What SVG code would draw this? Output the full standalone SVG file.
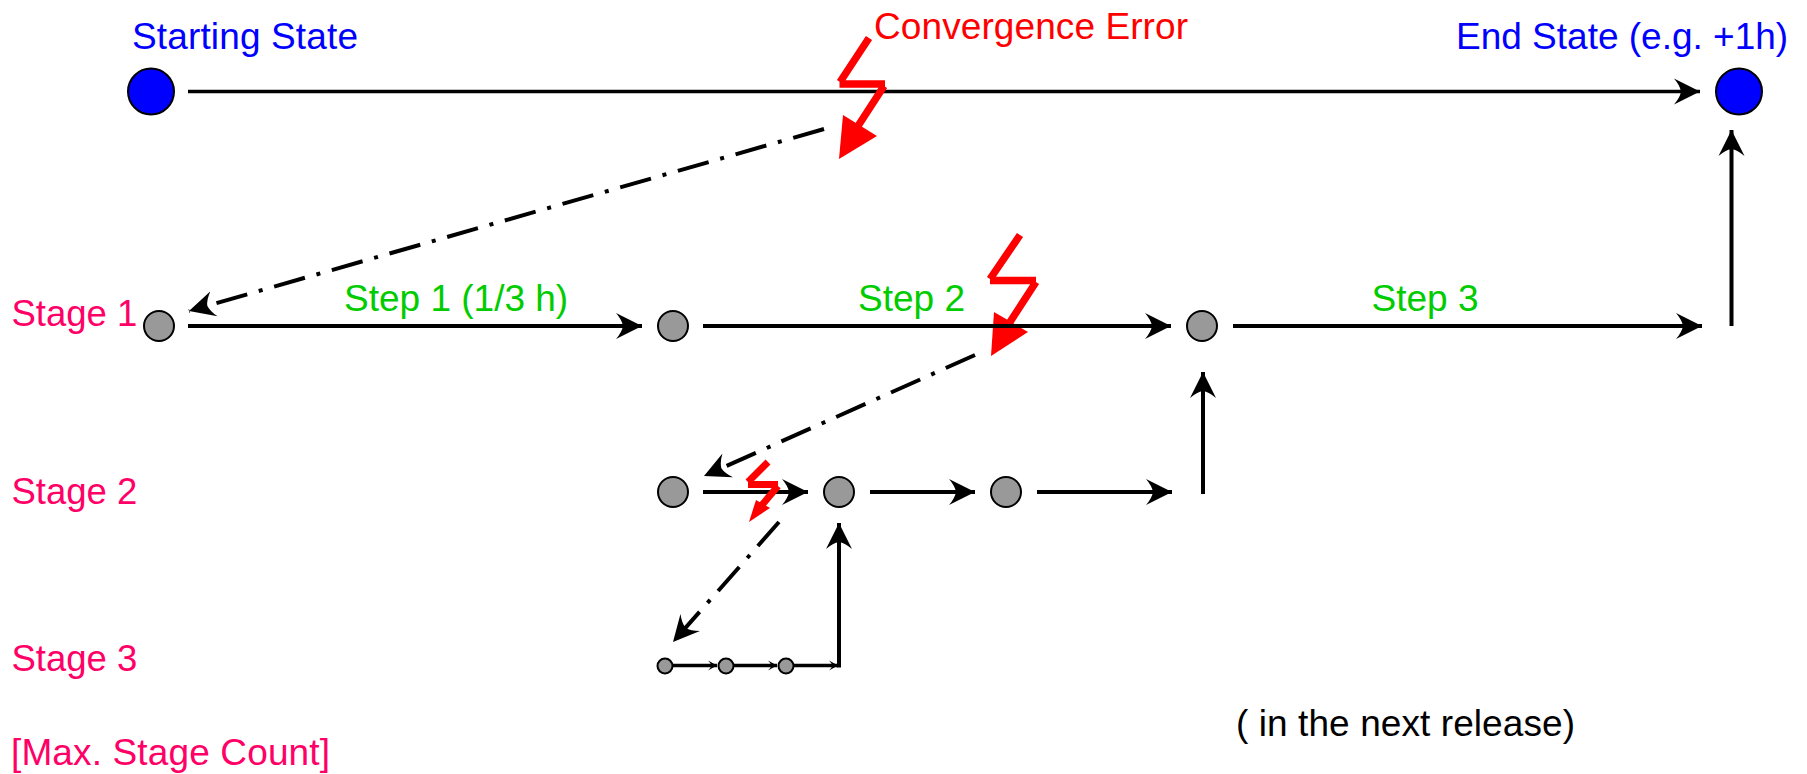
<svg xmlns="http://www.w3.org/2000/svg" width="1807" height="774" viewBox="0 0 1807 774">
<style>
text{font-family:"Liberation Sans",Arial,sans-serif;font-size:37px}
.blue{fill:#0000ff}.red{fill:#ff0000}.green{fill:#00cc00}.pink{fill:#ff0066}.black{fill:#000}
text.st{font-size:36.5px}
.n1{fill:#0000ff;stroke:#000;stroke-width:2}
.n2{fill:#999;stroke:#000;stroke-width:2}
.c{fill:none;stroke:#000;stroke-width:4;marker-end:url(#a)}
.t{stroke-width:3.4}
.d{stroke-dasharray:32 12 4 12}
.s{fill:none;stroke:#000;stroke-width:3.6;marker-end:url(#b)}
.b{fill:none;stroke:#ff0000;stroke-width:7.4}
.h{fill:#ff0000}
</style>
<defs>
<marker id="a" markerUnits="userSpaceOnUse" markerWidth="28" markerHeight="28" refX="26" refY="13" orient="auto" viewBox="0 0 28 26"><path d="M0 0L26 13L0 26Q6 19 7 13Q6 7 0 0Z"/></marker>
<marker id="b" markerUnits="userSpaceOnUse" markerWidth="11" markerHeight="11" refX="9" refY="5" orient="auto" viewBox="0 0 11 10"><path d="M0 0L9 5L0 10Q3 7 3.5 5Q3 3 0 0Z"/></marker>
</defs>
<g id="error-2"><path class="b" d="M1020 235L990 279M990 280.5H1036M1036 282L1010 322"/><path class="h" d="M991 356L994 312L1028 332Z"/></g>
<g id="connectors">
<path class="c t" d="M188 91.5H1700"/>
<path class="c" d="M188 326H642"/>
<path class="c" d="M703 326H1171"/>
<path class="c" d="M1233 326H1702"/>
<path class="c" d="M1731.5 326V130"/>
<path class="c" d="M703 492H808"/>
<path class="c" d="M870 492H975"/>
<path class="c" d="M1037 492H1172"/>
<path class="c" d="M1203 494V372"/>
<path class="s" d="M665 665.5H717"/>
<path class="s" d="M726 665.5H777"/>
<path class="s" d="M786 665.5H838"/>
<path class="c" d="M839 667.5V523"/>
<path class="c d" d="M824 129L189 311"/>
<path class="c d" d="M975 355L704 476"/>
<path class="c d" d="M779 522L673 642"/>
</g>
<g id="error-1"><path class="b" d="M869 38L840 82M839.5 84H885M884 86L858 126"/><path class="h" d="M839 159L843 115L877 136Z"/></g>
<g id="error-3"><path class="b" style="stroke-width:7" d="M768 462L748 482M748 484.5H778M778 486L762 505"/><path class="h" d="M749 522L756 500L770 508Z"/></g>
<g id="start"><circle class="n1" cx="151" cy="91.5" r="23"/></g>
<g id="end"><circle class="n1" cx="1739" cy="91.5" r="23"/></g>
<g id="s1a"><circle class="n2" cx="159" cy="326" r="15"/></g>
<g id="s1b"><circle class="n2" cx="673" cy="326" r="15"/></g>
<g id="s1c"><circle class="n2" cx="1202" cy="326" r="15"/></g>
<g id="s2a"><circle class="n2" cx="673" cy="492" r="15"/></g>
<g id="s2b"><circle class="n2" cx="839" cy="492" r="15"/></g>
<g id="s2c"><circle class="n2" cx="1006" cy="492" r="15"/></g>
<g id="s3a"><circle class="n2" cx="665" cy="666" r="7.5"/></g>
<g id="s3b"><circle class="n2" cx="726" cy="666" r="7.5"/></g>
<g id="s3c"><circle class="n2" cx="786" cy="666" r="7.5"/></g>
<g id="labels">
<text class="blue" x="132" y="49" textLength="226" lengthAdjust="spacing">Starting State</text>
<text class="blue" x="1456" y="49">End State (e.g. +1h)</text>
<text class="red" x="874" y="38.5" textLength="314" lengthAdjust="spacing">Convergence Error</text>
<text class="pink st" x="11.5" y="325.5">Stage 1</text>
<text class="pink st" x="11.5" y="504">Stage 2</text>
<text class="pink st" x="11.5" y="671">Stage 3</text>
<text class="pink" x="11" y="764.5" textLength="319" lengthAdjust="spacing">[Max. Stage Count]</text>
<text class="green" x="344" y="311">Step 1 (1/3 h)</text>
<text class="green" x="858" y="311">Step 2</text>
<text class="green" x="1371.5" y="311">Step 3</text>
<text class="black" x="1236" y="736" textLength="339" lengthAdjust="spacing">( in the next release)</text>
</g>
</svg>
